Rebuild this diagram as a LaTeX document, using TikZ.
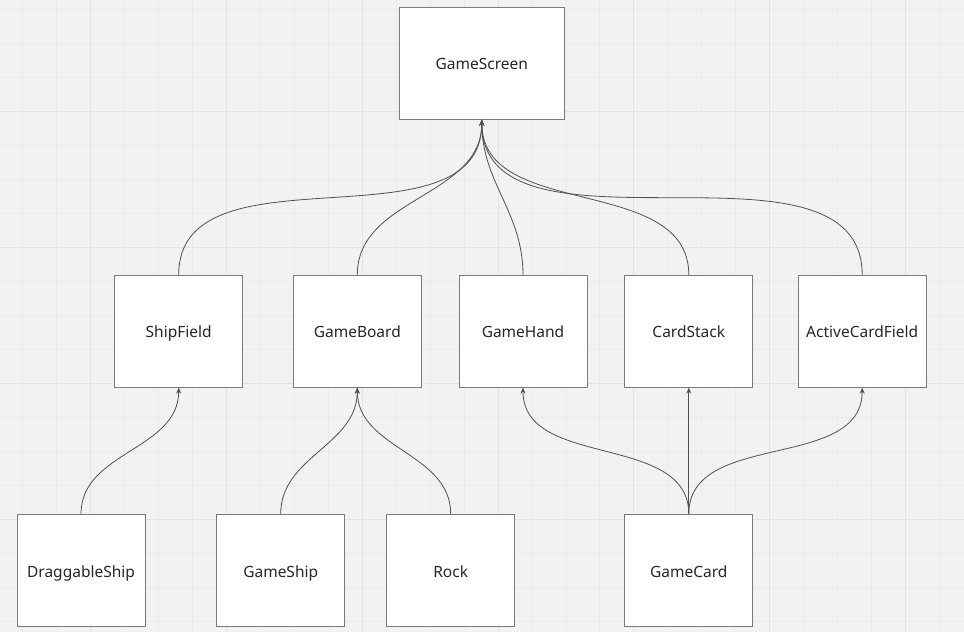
\documentclass[tikz,border=0pt]{standalone}
\usepackage{fontspec}
\setmainfont{Noto Sans}
\usetikzlibrary{arrows.meta}

\definecolor{bggray}{HTML}{F2F2F2}
\definecolor{gridminor}{HTML}{EBEBEB}
\definecolor{gridmajor}{HTML}{E3E3E3}
\definecolor{boxgray}{HTML}{7A7A7A}
\definecolor{linegray}{HTML}{505050}

\begin{document}
\begin{tikzpicture}[x=1pt,y=-1pt]
  \tikzset{CMP/.style={draw=boxgray, fill=white, line width=0.9pt, minimum height=112pt, minimum width=128pt, inner sep=0pt, text height=14pt, text depth=0.5pt, font=\fontsize{15.5}{18}\selectfont, text=black!85}}
  \tikzset{TOP/.style={CMP, minimum width=165pt}}
  \tikzset{LNK/.style={draw=linegray, line width=0.8pt, -{Stealth[length=6pt,width=5pt]}}}

  % background grid
  \useasboundingbox (0,0) rectangle (964,632);
  \fill[bggray] (0,0) rectangle (964,632);
  \foreach \i in {0,...,27} \draw[gridminor, line width=0.8pt] ({22.7+33.95*\i},0) -- ++(0,632);
  \foreach \j in {0,...,18} \draw[gridminor, line width=0.8pt] (0,{9.5+34*\j}) -- ++(964,0);
  \foreach \i in {0,...,6} \draw[gridmajor, line width=1pt] ({90.6+135.8*\i},0) -- ++(0,632);
  \foreach \j in {0,...,3} \draw[gridmajor, line width=1pt] (0,{111.5+136*\j}) -- ++(964,0);

  \node[TOP] (screen) at (481.8, 63.2) {GameScreen};

  \node[CMP] (shipfield)  at (178.7, 331.2) {ShipField};
  \node[CMP] (board)      at (357.3, 331.2) {GameBoard};
  \node[CMP] (hand)       at (523.0, 331.2) {GameHand};
  \node[CMP] (stack)      at (688.8, 331.2) {CardStack};
  \node[CMP] (activefield) at (862.2, 331.2) {ActiveCardField};

  \node[CMP] (dragship) at (81.0, 570.4) {DraggableShip};
  \node[CMP] (ship)     at (280.7, 570.4) {GameShip};
  \node[CMP] (rock)     at (450.7, 570.4) {Rock};
  \node[CMP] (card)     at (688.8, 570.4) {GameCard};

  \draw[LNK] (shipfield.north)   to[out=90,in=-90] (screen.south);
  \draw[LNK] (board.north)       to[out=90,in=-90] (screen.south);
  \draw[LNK] (hand.north)        to[out=90,in=-90] (screen.south);
  \draw[LNK] (stack.north)       to[out=90,in=-90] (screen.south);
  \draw[LNK] (activefield.north) to[out=90,in=-90,looseness=0.95] (screen.south);

  \draw[LNK] (dragship.north) to[out=90,in=-90] (shipfield.south);
  \draw[LNK] (ship.north)     to[out=90,in=-90] (board.south);
  \draw[LNK] (rock.north)     to[out=90,in=-90] (board.south);
  \draw[LNK] (card.north)     to[out=90,in=-90] (hand.south);
  \draw[LNK] (card.north)     --                (stack.south);
  \draw[LNK] (card.north)     to[out=90,in=-90] (activefield.south);
\end{tikzpicture}
\end{document}
